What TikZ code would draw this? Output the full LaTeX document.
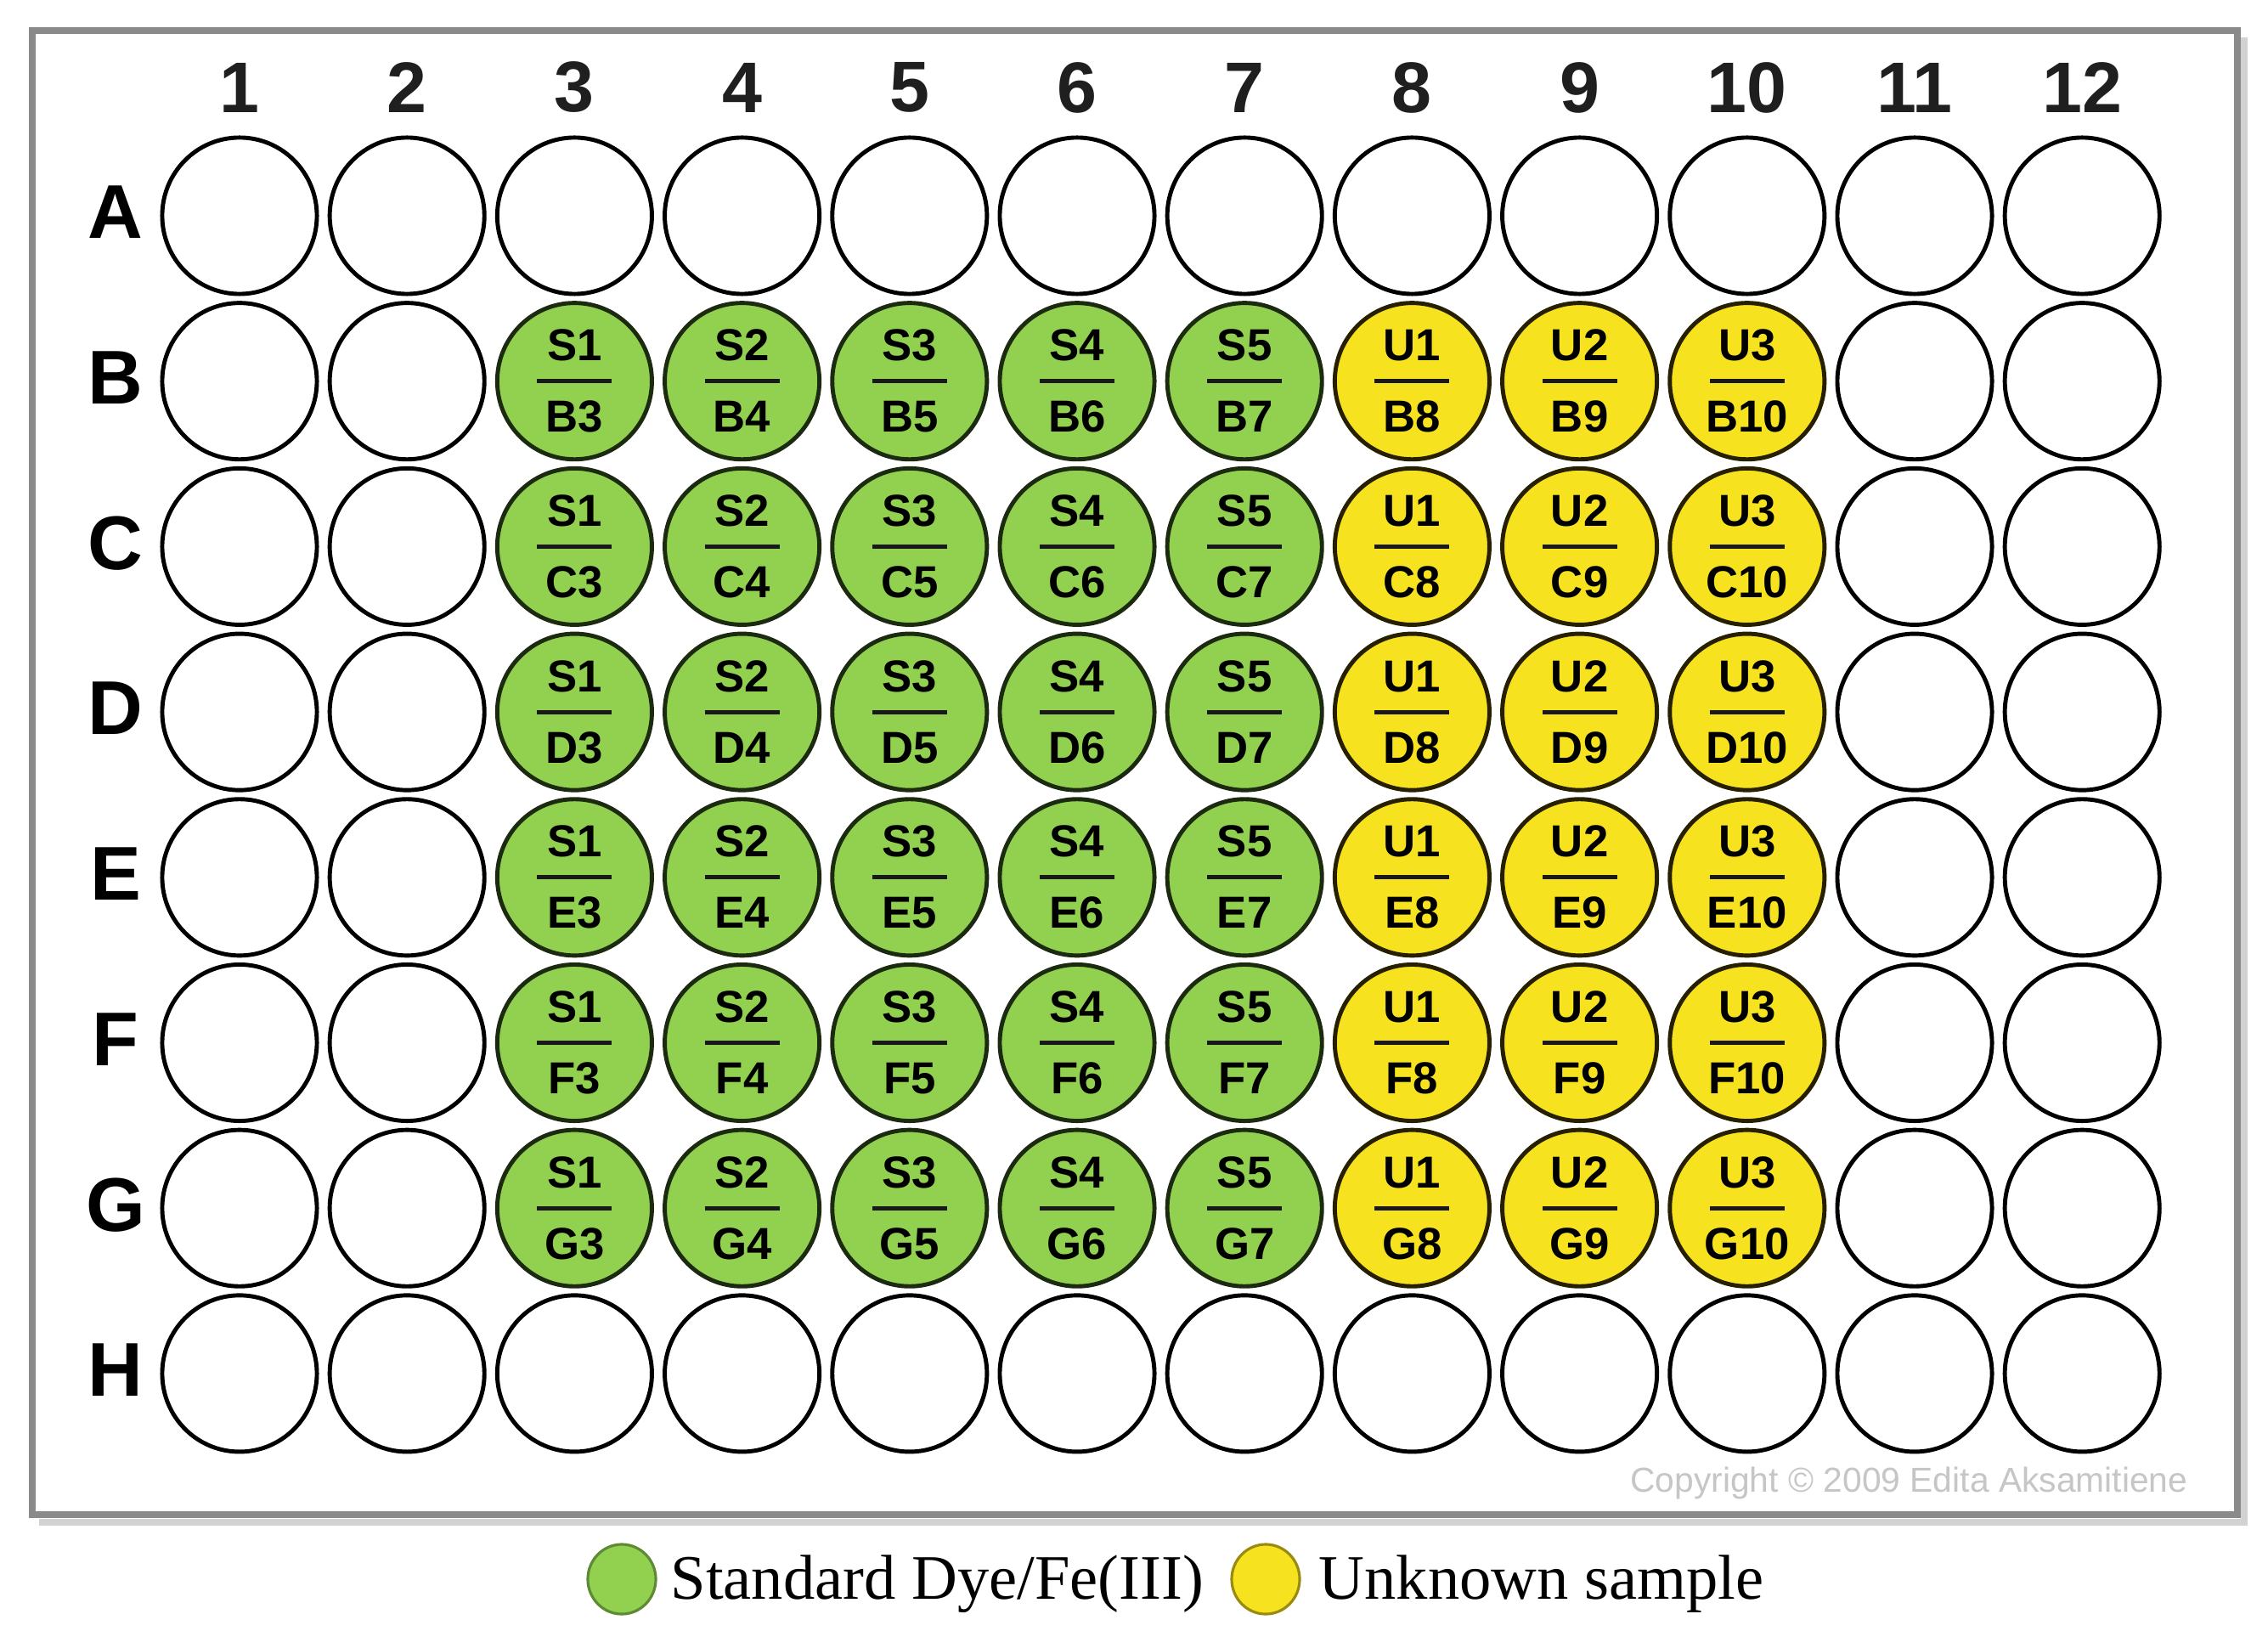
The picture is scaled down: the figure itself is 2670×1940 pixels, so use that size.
\documentclass[tikz,border=0pt]{standalone}
\usepackage{fontspec}
\setmainfont{Liberation Sans}
\newfontfamily\legserif{Liberation Serif}
\usetikzlibrary{calc,shapes.geometric}
\definecolor{wellgreen}{HTML}{92D050}
\definecolor{wellyellow}{HTML}{F6E21E}
\definecolor{greenedge}{HTML}{1C2A10}
\definecolor{yellowedge}{HTML}{262000}
\definecolor{framegray}{HTML}{8A8A8A}
\definecolor{shadowgray}{HTML}{D2D2D2}
\definecolor{copygray}{HTML}{C6C6C6}
\definecolor{leggreenedge}{HTML}{5E8A35}
\definecolor{legyellowedge}{HTML}{9A8A10}
\tikzset{
  well/.style={ellipse,inner sep=0pt,minimum width=1.82cm,minimum height=1.84cm,line width=1.4pt},
  plainwell/.style={draw=black,fill=white},
  std/.style={draw=greenedge,fill=wellgreen},
  unk/.style={draw=yellowedge,fill=wellyellow},
  welltxt/.style={inner sep=0pt,font=\fontsize{15}{18}\selectfont\bfseries,text=black},
  fracline/.style={line width=1.4pt,draw=black!90},
  collab/.style={inner sep=0pt,font=\fontsize{24}{28}\selectfont\bfseries,text=black!88},
  rowlab/.style={inner sep=0pt,font=\fontsize{25.5}{30}\selectfont\bfseries,text=black},
  legdot/.style={ellipse,inner sep=0pt,minimum width=0.8cm,minimum height=0.82cm,line width=0.9pt},
  legtext/.style={inner sep=0pt,font=\legserif\fontsize{21.2}{25}\selectfont,text=black},
  copytxt/.style={inner sep=0pt,font=\fontsize{11.6}{14}\selectfont,text=copygray}
}
\begin{document}
\begin{tikzpicture}[x=0.01cm,y=0.01cm]
\fill[white] (0,0) rectangle (2670,-1940);
\useasboundingbox (0,0) rectangle (2670,-1940);
% plate frame with shadow
\draw[shadowgray,line width=2.2pt] (46,-1792) -- (2642,-1792) -- (2642,-44);
\draw[framegray,line width=2.3pt] (38,-36) rectangle (2634,-1783);
% column labels
\foreach \c in {1,...,12}{
  \pgfmathsetmacro\cx{282+197.2*(\c-1)}
  \node[collab] (col\c) at (\cx,-103) {\c};
}
% wells
\foreach \r/\L in {1/A,2/B,3/C,4/D,5/E,6/F,7/G,8/H}{
  \pgfmathsetmacro\ry{254+194.7*(\r-1)}
  \node[rowlab] (row\L) at (136,-\ry+4) {\L};
  \foreach \c in {1,...,12}{
    \pgfmathsetmacro\cx{282+197.2*(\c-1)}
    \def\kind{plainwell}%
    \ifnum\r>1 \ifnum\r<8
      \ifnum\c>2 \ifnum\c<8 \def\kind{std}\fi\fi
      \ifnum\c>7 \ifnum\c<11 \def\kind{unk}\fi\fi
    \fi\fi
    \node[well,\kind] (w\L\c) at (\cx,-\ry) {};
  }
}
% well labels
\foreach \r in {B,C,D,E,F,G}{
  \foreach \c in {3,...,10}{
    \ifnum\c<8 \edef\wtop{S\number\numexpr\c-2\relax}\else \edef\wtop{U\number\numexpr\c-7\relax}\fi
    \node[welltxt,anchor=base] (t\r\c) at ($(w\r\c)+(0,24)$) {\wtop};
    \draw[fracline] ($(w\r\c)+(-44,0)$) -- ($(w\r\c)+(44,0)$);
    \node[welltxt,anchor=base] (b\r\c) at ($(w\r\c)+(0,-60)$) {\r\c};
  }
}
% copyright
\node[copytxt,anchor=base east] (copy) at (2576,-1756) {Copyright © 2009 Edita Aksamitiene};
% legend
\node[legdot,draw=leggreenedge,fill=wellgreen] (lgg) at (732,-1859) {};
\node[legtext,anchor=base west] (lggt) at (789,-1882) {Standard Dye/Fe(III)};
\node[legdot,draw=legyellowedge,fill=wellyellow] (lgy) at (1490,-1859) {};
\node[legtext,anchor=base west] (lgyt) at (1552,-1882) {Unknown sample};
\end{tikzpicture}
\end{document}
